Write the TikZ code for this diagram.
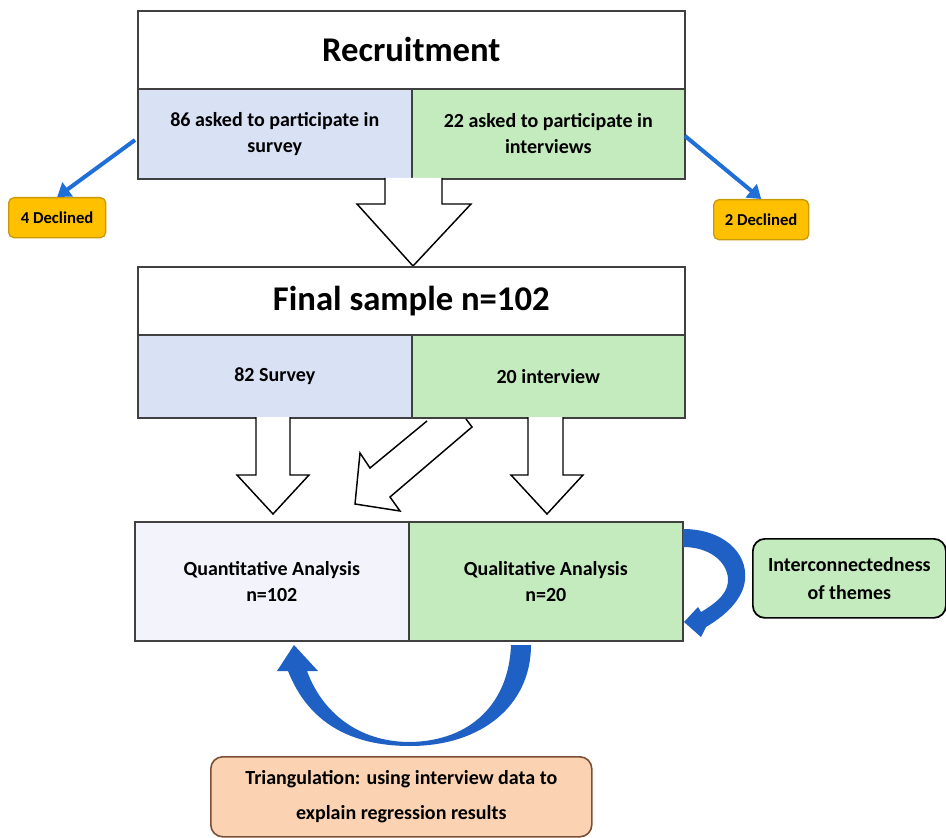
\documentclass[tikz,border=0pt]{standalone}
\usepackage{fontspec}
\setmainfont{Carlito}
\usetikzlibrary{arrows.meta}
\newdimen\pxu \pxu=0.75pt
\definecolor{lav}{HTML}{D9E1F5}
\definecolor{grn}{HTML}{C4EBBD}
\definecolor{pale}{HTML}{F3F3FC}
\definecolor{gold}{HTML}{FFC000}
\definecolor{goldedge}{HTML}{C99A06}
\definecolor{peach}{HTML}{FBD3B3}
\definecolor{brownedge}{HTML}{7B4F35}
\definecolor{arrowblue}{HTML}{1F6FD8}
\definecolor{curveblue}{HTML}{1F60C4}
\definecolor{edgegray}{HTML}{404040}
\tikzset{
  cell/.style={draw=edgegray, line width=1.2pt, anchor=north west, inner sep=0pt, align=center,
    font=\bfseries\fontsize{15}{19.5}\selectfont},
  titlecell/.style={cell, fill=white, font=\bfseries\fontsize{26}{30}\selectfont},
  declbox/.style={draw=goldedge, fill=gold, rounded corners=4pt, line width=1pt, anchor=north west,
    inner sep=0pt, font=\bfseries\fontsize{12.5}{14}\selectfont},
  notebox/.style={draw=black, line width=1.3pt, rounded corners=9pt, anchor=north west, inner sep=0pt,
    align=center},
  bluearrow/.style={draw=arrowblue, line width=3pt, -{Triangle[length=9.75pt, width=12.75pt]}},
  hollow/.style={draw=black, fill=white, line width=1.1pt, line join=miter},
}
\begin{document}
\begin{tikzpicture}[x=0.75pt, y=-0.75pt]
\useasboundingbox (0,0) rectangle (946,838);

% Recruitment block
\node[titlecell, minimum width=547\pxu, minimum height=78\pxu] (rec) at (137,10) {Recruitment};
\node[cell, fill=lav, minimum width=274\pxu, minimum height=90\pxu] (s86) at (137,88) {86 asked to participate in\\survey};
\node[cell, fill=grn, minimum width=273\pxu, minimum height=90\pxu] (i22) at (411,88) {22 asked to participate in\\interviews};

% Declined
\node[declbox, minimum width=97\pxu, minimum height=40\pxu] (d4) at (8,197) {4 Declined};
\node[declbox, minimum width=95\pxu, minimum height=40\pxu] (d2) at (713,199) {2 Declined};
\draw[bluearrow] (135,140) -- (d4.north);
\draw[bluearrow] (685,136) -- (d2.north);

% big hollow arrow
\draw[hollow] (385,178) -- (385,204) -- (357,204) -- (413,266) -- (471,204) -- (442,204) -- (442,178);

% Final sample block
\node[titlecell, minimum width=547\pxu, minimum height=68\pxu] (fin) at (137,266) {Final sample n=102};
\node[cell, fill=lav, minimum width=274\pxu, minimum height=83\pxu] (s82) at (137,334) {82 Survey};
\node[cell, fill=grn, minimum width=273\pxu, minimum height=83\pxu] (i20) at (411,334) {20 interview};

% hollow arrows to analysis
\draw[hollow] (256,417) -- (256,475) -- (237,475) -- (273,514) -- (309,475) -- (290,475) -- (290,417);
\draw[hollow] (528,417) -- (528,475) -- (511,475) -- (547,514) -- (583,475) -- (563,475) -- (563,417);
\draw[hollow] (427,421) -- (370,468) -- (360,453) -- (355,504) -- (400,511) -- (390,497) -- (472,427) -- (466,419);

% Analysis block
\node[cell, fill=pale, minimum width=274\pxu, minimum height=119\pxu] (quant) at (134,521) {Quantitative Analysis\\n=102};
\node[cell, fill=grn, minimum width=274\pxu, minimum height=119\pxu] (qual) at (408,521) {Qualitative Analysis\\n=20};

% Interconnectedness
\node[notebox, fill=grn, minimum width=193\pxu, minimum height=79\pxu,
  font=\bfseries\fontsize{15}{21}\selectfont] (inter) at (752,538) {Interconnectedness\\of themes};

% curved arrow right (self loop on qualitative)
\fill[curveblue] (683,529) .. controls (722,529) and (748,552) .. (745,580)
  .. controls (743,598) and (728,614) .. (706,627)
  -- (701,637) -- (684,622) -- (698,607) -- (701,612)
  .. controls (718,602) and (729,592) .. (728,578)
  .. controls (726,560) and (708,547) .. (683,547) -- cycle;

% bottom curved arrow (triangulation)
\fill[curveblue] (511,645) .. controls (509,702) and (472,741) .. (410,742)
  .. controls (358,742) and (322,712) .. (307,671)
  -- (318,671) -- (294,645) -- (277,671) -- (288,671)
  .. controls (308,722) and (350,746) .. (410,746)
  .. controls (482,746) and (531,705) .. (531,645) -- cycle;

% Triangulation
\node[notebox, draw=brownedge, fill=peach, line width=1.2pt, minimum width=381\pxu, minimum height=80\pxu,
  font=\bfseries\fontsize{15}{26}\selectfont] (tri) at (210,756) {Triangulation: using interview data to\\explain regression results};
\end{tikzpicture}
\end{document}
